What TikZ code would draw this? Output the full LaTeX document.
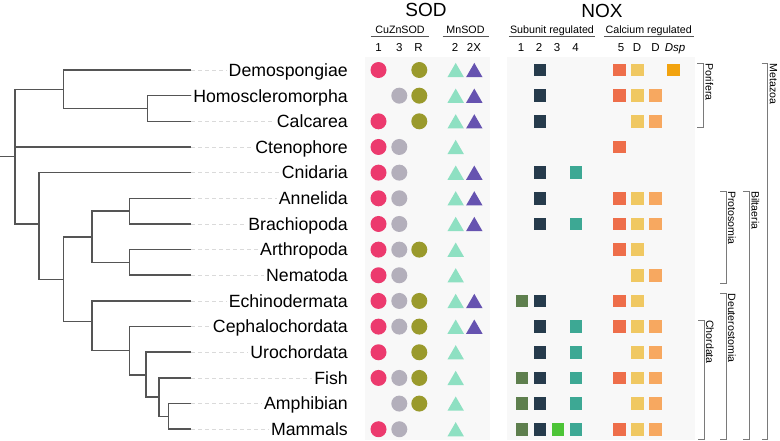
\documentclass[tikz,border=0pt]{standalone}
\usepackage{fontspec}
\setmainfont{Liberation Sans}
\usetikzlibrary{shapes.geometric}
\definecolor{treegray}{HTML}{555555}
\definecolor{guidegray}{HTML}{DADADA}
\definecolor{panelgray}{HTML}{F8F8F8}
\definecolor{cladegray}{HTML}{7A7A7A}
\definecolor{sodone}{HTML}{EC3A6E}
\definecolor{sodthree}{HTML}{B3AFBB}
\definecolor{sodr}{HTML}{9A9A2C}
\definecolor{mntwo}{HTML}{8EE0C2}
\definecolor{mntwox}{HTML}{6653B0}
\definecolor{noxone}{HTML}{5E7F4E}
\definecolor{noxtwo}{HTML}{263B4C}
\definecolor{noxthree}{HTML}{4DC437}
\definecolor{noxfour}{HTML}{3DA894}
\definecolor{noxfive}{HTML}{EE6E4A}
\definecolor{duoxa}{HTML}{F0C862}
\definecolor{duoxb}{HTML}{F7A860}
\definecolor{dsp}{HTML}{F2A30F}
\tikzset{
  branch/.style={draw=treegray, line width=1.6pt},
  guide/.style={draw=guidegray, line width=0.8pt, dash pattern=on 4pt off 3pt},
  taxon/.style={anchor=east, inner xsep=2pt, inner ysep=0pt, text height=12.7pt,
                text depth=0pt, font=\fontsize{17.7}{20}\selectfont},
  title/.style={inner sep=0pt, font=\fontsize{19}{22}\selectfont},
  group/.style={anchor=base, inner sep=0pt, text depth=3pt, font=\fontsize{10.7}{12}\selectfont},
  colnum/.style={anchor=base, inner sep=0pt, font=\fontsize{11.5}{13}\selectfont},
  rule/.style={draw=treegray, line width=0.7pt},
  sodcirc/.style={circle, fill=#1, inner sep=0pt, minimum size=16pt},
  sodtri/.style={regular polygon, regular polygon sides=3, fill=#1, inner sep=0pt,
                 minimum size=19pt, yshift=-2.4pt},
  noxsq/.style={rectangle, fill=#1, inner sep=0pt, minimum size=12.7pt},
  clade/.style={draw=cladegray, line width=0.9pt},
  cladelab/.style={rotate=-90, anchor=south west, inner sep=0pt, text depth=0pt,
                   font=\fontsize{10.6}{12}\selectfont}
}
% bracket: name, x, top, bottom, label
\newcommand\cladebracket[5]{%
  \coordinate (#1T) at (#2,#3);
  \coordinate (#1B) at (#2,#4);
  \draw[clade] ([xshift=-6pt]#1T) -- (#1T) -- (#1B) -- ([xshift=-6pt]#1B);
  \node[cladelab] (#1L) at ([xshift=2pt]#1T) {#5};
}
% one column of marks: style, x, rows
\newcommand\markcol[4]{%
  \foreach \r in {#4} {
    \pgfmathsetmacro\yy{70+25.66*(\r-1)}
    \node[#1] (#2-\r) at (#3,\yy) {};
  }
}

\begin{document}
\begin{tikzpicture}[x=1pt, y=-1pt]
\useasboundingbox (0,0) rectangle (780,440);

% panels
\fill[panelgray] (365,57) rectangle (490,440);
\fill[panelgray] (507,57) rectangle (694.5,440);

% headers
\node[title] (sod) at (426,10) {SOD};
\node[title] (nox) at (602,11) {NOX};
\node[group, minimum width=58pt] (cuzn) at (400,33) {CuZnSOD};
\node[group, minimum width=45.6pt] (mn) at (465.5,33) {MnSOD};
\node[group, minimum width=86pt] (subu) at (552,33) {Subunit regulated};
\node[group, minimum width=89.3pt] (calc) at (648.7,33) {Calcium regulated};
\foreach \g in {cuzn,mn,subu,calc}
  \draw[rule] (\g.south west) -- (\g.south east);

\foreach \t/\x [count=\i] in {1/378.5, 3/399.3, R/418.5, 2/455, 2X/474,
                              1/521, 2/539, 3/557, 4/575.5,
                              5/621, D/637, D/655.5}
  \node[colnum] (c\i) at (\x,51.7) {\t};
\node[colnum] (c13) at (675,51.7) {\itshape Dsp};

% taxa
\foreach \name [count=\r] in {Demospongiae, Homoscleromorpha, Calcarea, Ctenophore,
    Cnidaria, Annelida, Brachiopoda, Arthropoda, Nematoda, Echinodermata,
    Cephalochordata, Urochordata, Fish, Amphibian, Mammals} {
  \pgfmathsetmacro\yy{70+25.66*(\r-1)}
  \coordinate (t\r) at (191,\yy);
  \node[taxon] (l\r) at (350,\yy) {\name};
  \draw[guide] (t\r) -- (l\r.west);
}

% tree
\coordinate (stem) at (0,156.5);
\coordinate (root) at (15,156.5);
\coordinate (nA) at (63.3,89.3);
\coordinate (nB) at (147.3,108.5);
\coordinate (nC) at (39,223.7);
\coordinate (nD) at (63.3,279.3);
\coordinate (nE) at (91.7,237);
\coordinate (nF) at (129.3,211.2);
\coordinate (nG) at (129.3,262.5);
\coordinate (nH) at (91.7,321.3);
\coordinate (nI) at (129.3,350.5);
\coordinate (nJ) at (145.7,374.7);
\coordinate (nK) at (158.7,397);
\coordinate (nL) at (168.3,416.4);

\draw[branch] (stem) -- (root);
\draw[branch] (root) |- (nA);
\draw[branch] (root) |- (t4);
\draw[branch] (root) |- (nC);
\draw[branch] (nA) |- (t1);
\draw[branch] (nA) |- (nB);
\draw[branch] (nB) |- (t2);
\draw[branch] (nB) |- (t3);
\draw[branch] (nC) |- (t5);
\draw[branch] (nC) |- (nD);
\draw[branch] (nD) |- (nE);
\draw[branch] (nD) |- (nH);
\draw[branch] (nE) |- (nF);
\draw[branch] (nE) |- (nG);
\draw[branch] (nF) |- (t6);
\draw[branch] (nF) |- (t7);
\draw[branch] (nG) |- (t8);
\draw[branch] (nG) |- (t9);
\draw[branch] (nH) |- (t10);
\draw[branch] (nH) |- (nI);
\draw[branch] (nI) |- (t11);
\draw[branch] (nI) |- (nJ);
\draw[branch] (nJ) |- (t12);
\draw[branch] (nJ) |- (nK);
\draw[branch] (nK) |- (t13);
\draw[branch] (nK) |- (nL);
\draw[branch] (nL) |- (t14);
\draw[branch] (nL) |- (t15);

% SOD
\markcol{sodcirc=sodone}{cu1}{378.5}{1,3,4,5,6,7,8,9,10,11,12,13,15}
\markcol{sodcirc=sodthree}{cu3}{399.3}{2,4,5,6,7,8,9,10,11,13,14,15}
\markcol{sodcirc=sodr}{cur}{419.3}{1,2,3,8,10,11,12,13,14}
\markcol{sodtri=mntwo}{mn2}{455.7}{1,2,3,4,5,6,7,8,9,10,11,12,13,14,15}
\markcol{sodtri=mntwox}{mn2x}{474.3}{1,2,3,5,6,7,10,11}

% NOX
\markcol{noxsq=noxone}{nx1}{522}{10,13,14,15}
\markcol{noxsq=noxtwo}{nx2}{540}{1,2,3,5,6,7,10,11,12,13,14,15}
\markcol{noxsq=noxthree}{nx3}{558}{15}
\markcol{noxsq=noxfour}{nx4}{576}{5,7,11,12,13,14,15}
\markcol{noxsq=noxfive}{nx5}{619.5}{1,2,4,6,7,8,10,11,13,15}
\markcol{noxsq=duoxa}{dxa}{637.3}{1,2,3,6,7,8,9,10,11,12,13,14,15}
\markcol{noxsq=duoxb}{dxb}{655.3}{2,3,6,7,9,11,12,13,14,15}
\markcol{noxsq=dsp}{dsp}{673.3}{1}

% clades
\cladebracket{pori}{703.3}{63.3}{127.3}{Porifera}
\cladebracket{meta}{767.7}{63.3}{439}{Metazoa}
\cladebracket{bila}{749.3}{191}{439}{Biltaeria}
\cladebracket{prot}{726}{191}{283.3}{Protosomia}
\cladebracket{deut}{726}{293.3}{439}{Deuterostomia}
\cladebracket{chor}{704}{320}{439}{Chordata}
\end{tikzpicture}
\end{document}
